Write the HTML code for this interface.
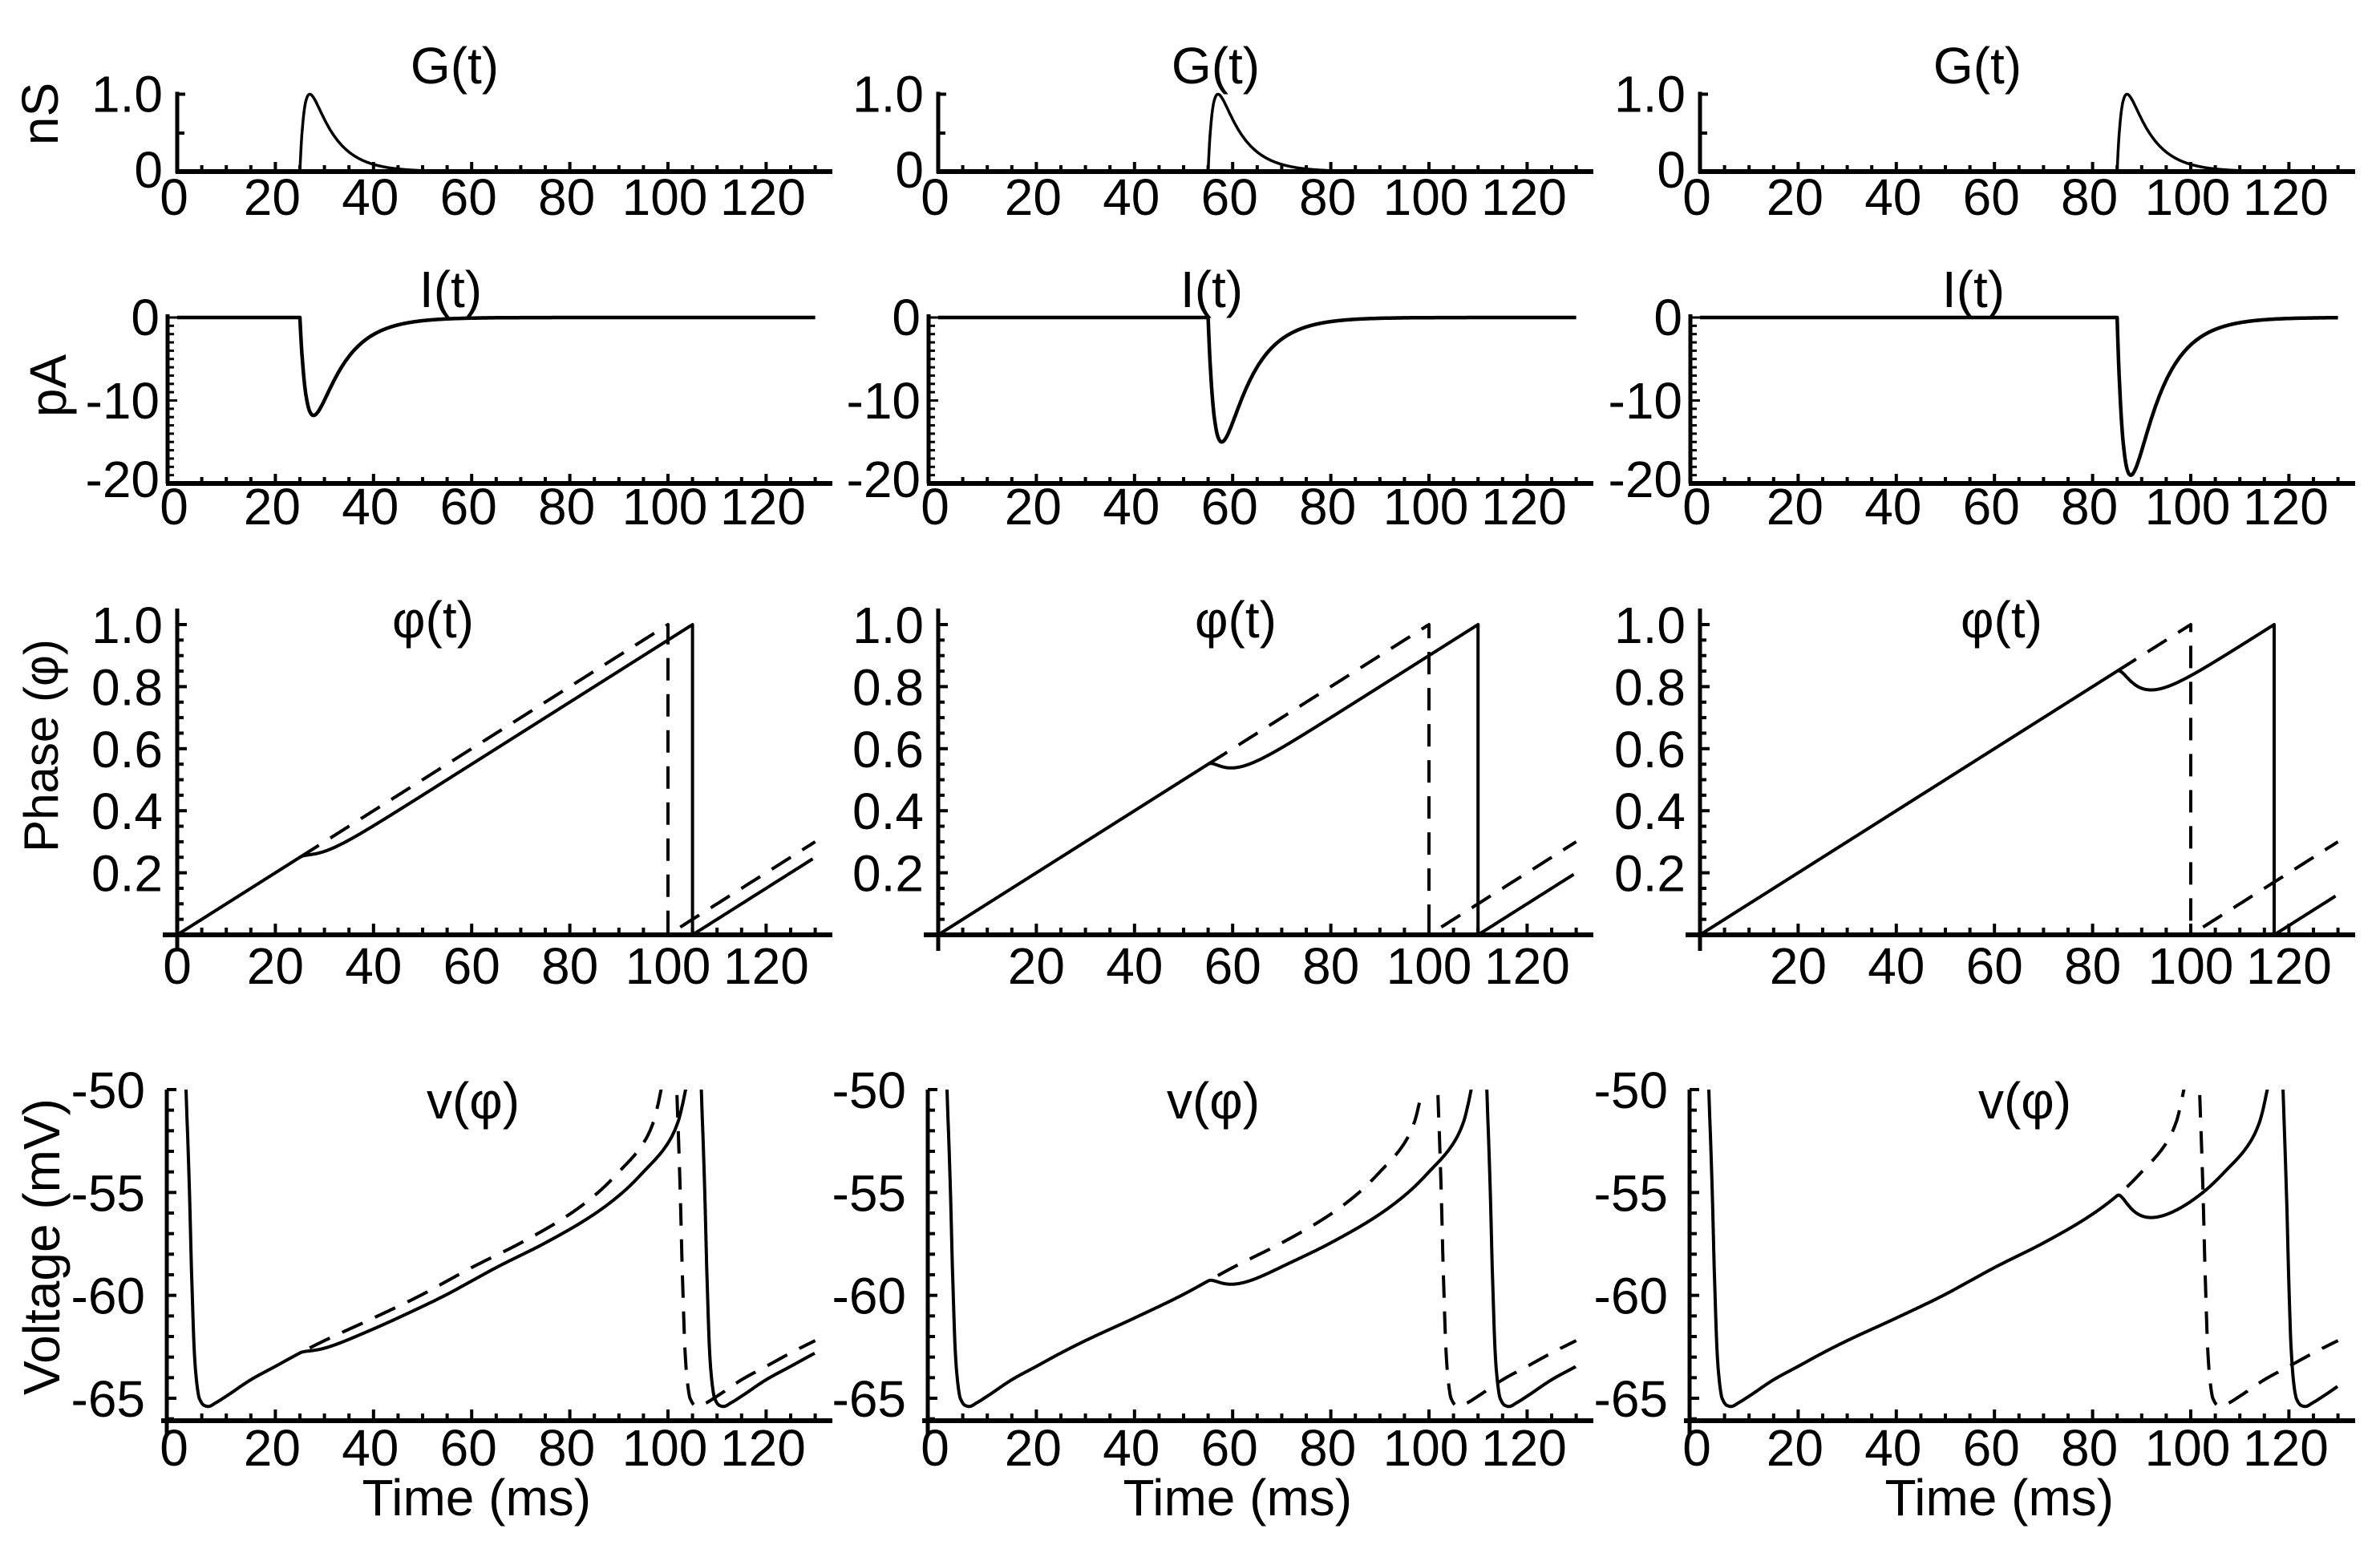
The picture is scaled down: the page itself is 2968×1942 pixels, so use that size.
<!DOCTYPE html>
<html><head><meta charset="utf-8"><style>
html,body{margin:0;padding:0;background:#fff;}
svg{display:block;}
text{font-family:"Liberation Sans",sans-serif;fill:#000;}
</style></head><body>
<svg id="s" width="2968" height="1942" viewBox="0 0 2968 1942" xmlns="http://www.w3.org/2000/svg"></svg>
<script>
const S=document.getElementById('s');
let out='';
const OFF=[0,949,1899];
const FS=64;
function T(x,y,s,anchor,size,extra){out+=`<text x="${x}" y="${y}" font-size="${size||FS}" text-anchor="${anchor||'middle'}" ${extra||''}>${s}</text>`;}
function L(x1,y1,x2,y2,w){out+=`<line x1="${x1}" y1="${y1}" x2="${x2}" y2="${y2}" stroke="#000" stroke-width="${w||5}"/>`;}
function P(pts,dash,w,clip){if(pts.length<2)return;let d='M'+pts.map(p=>p[0].toFixed(1)+','+p[1].toFixed(1)).join('L');
out+=`<path d="${d}" fill="none" stroke="#000" stroke-width="${w||4}" stroke-linejoin="round" ${dash?'stroke-dasharray="28,17"':''} ${clip?'clip-path="url(#'+clip+')"':''}/>`;}
const VT=[[0,-38],[0.01,-44],[0.018,-50],[0.025,-55],[0.03,-59.5],[0.035,-62.8],[0.04,-64.3],[0.045,-65.0],[0.055,-65.35],[0.063,-65.4],[0.08,-65.2],[0.10,-64.9],[0.15,-64.1],[0.20,-63.45],[0.25,-62.8],[0.30,-62.2],[0.40,-61.1],[0.50,-59.95],[0.55,-59.3],[0.60,-58.65],[0.70,-57.45],[0.80,-56.05],[0.86,-54.95],[0.90,-54.0],[0.95,-52.6],[0.97,-51.6],[0.986,-50],[1.0,-48]];
// monotone cubic
const n=VT.length, xs=VT.map(p=>p[0]), ys=VT.map(p=>p[1]);
const dl=[],m=[];for(let i=0;i<n-1;i++)dl.push((ys[i+1]-ys[i])/(xs[i+1]-xs[i]));
m[0]=dl[0];m[n-1]=dl[n-2];
for(let i=1;i<n-1;i++){if(dl[i-1]*dl[i]<=0)m[i]=0;else{const w1=2*(xs[i+1]-xs[i])+(xs[i]-xs[i-1]),w2=(xs[i+1]-xs[i])+2*(xs[i]-xs[i-1]);m[i]=(w1+w2)/(w1/dl[i-1]+w2/dl[i]);}}
function vphi(p){if(p<=0)return ys[0];if(p>=1)return -48+(p-1)*200;
 let i=0;while(i<n-2&&p>xs[i+1])i++;
 const h=xs[i+1]-xs[i],t=(p-xs[i])/h,t2=t*t,t3=t2*t;
 return (2*t3-3*t2+1)*ys[i]+(t3-2*t2+t)*h*m[i]+(-2*t3+3*t2)*ys[i+1]+(t3-t2)*h*m[i+1];}
function dexp(s,t1,t2){return s<0?0:(Math.exp(-s/t1)-Math.exp(-s/t2));}
function F(s){const t1=4,t2=1;return s<=0?0:1-(t1*Math.exp(-s/t1)-t2*Math.exp(-s/t2))/(t1-t2);}
const T0=[25,55,85],AI=[11.8,15,19],D=[0.05,0.10,0.17];
const PHX=[540,592,597],VX=[590,564,626];
let defs='';
for(let c=0;c<3;c++){
 const ox=221+OFF[c];const X=t=>ox+6.12*t;
 const t0=T0[c];
 {const y0=214,y1=117.5;const Y=g=>y0-(y0-y1)*g;
  L(ox,y1-3,ox,y0+2,5);L(ox-2,y0,X(133.5),y0,6);
  for(let t=5;t<=130;t+=5){const maj=t%20==0;L(X(t),y0,X(t),y0-(maj?12:8),4);}
  L(ox,y1,ox+10,y1,4);L(ox,166,ox+9,166,4);
  T(ox-18,y1+22,'1.0','end');T(ox-18,y0+20,'0','end');
  for(let t=0;t<=120;t+=20)T(X(t)-4,268,t);
  const pk=Math.log(5)*5/4;const nm=dexp(pk,5,1);
  let pts=[];for(let t=t0;t<=131;t+=0.1)pts.push([X(t),Y(dexp(t-t0,5,1)/nm)]);P(pts,false,3.5);
  T(567+OFF[c],104,'G(t)','middle');
 }
 {const y0=396,y1=603;const Y=v=>y0+(y1-y0)*(-v/20);
  L(ox-12,y0-4,ox-12,y1,5);L(ox-14,y1,X(133.5),y1,6);
  for(let v=0;v<=20;v++)L(ox-12,Y(-v),ox-12+(v%10==0?12:8),Y(-v),3);
  for(let t=5;t<=130;t+=5){const maj=t%20==0;L(X(t),y1,X(t),y1-(maj?12:8),4);}
  T(ox-22,y0+22,'0','end');T(ox-22,500+22,'-10','end');T(ox-22,598+22,'-20','end');
  for(let t=0;t<=120;t+=20)T(X(t)-4,654,t);
  const pk=Math.log(4)*6*1.5/4.5;const nm=dexp(pk,6,1.5);
  let pts=[];for(let t=0;t<=130;t+=0.1)pts.push([X(t),Y(-AI[c]*dexp(t-t0,6,1.5)/nm)]);
  P(pts,false,4.5);
  T(562+OFF[c],383,'I(t)','middle');
 }
 {const y0=1166,yu=387;const Y=p=>y0-yu*p;
  L(ox,759,ox,y0+20,5);L(ox-18,y0,X(133.5),y0,6);
  for(let i=1;i<=20;i++){const p=i*0.05;L(ox,Y(p),ox+(i%4==0?12:8),Y(p),4);}
  for(let t=5;t<=130;t+=5){const maj=t%20==0;L(X(t),y0,X(t),y0-(maj?14:9),4);}
  ['0.2','0.4','0.6','0.8','1.0'].forEach((s,i)=>T(ox-18,Y((i+1)*0.2)+23,s,'end'));
  for(let t=(c==0?0:20);t<=120;t+=20)T(X(t),1227,t);
  const Dc=D[c];const ps=t=>t/100-Dc*F(t-t0);
  let Tend=0;for(let t=t0;t<140;t+=0.01){if(ps(t)>=1){Tend=t;break;}}
  let a=[];for(let t=0;t<=Tend;t+=0.1)a.push([X(t),Y(ps(t))]);a.push([X(Tend),Y(1)]);a.push([X(Tend),Y(0)]);
  for(let t=Tend;t<=130;t+=0.5)a.push([X(t),Y((t-Tend)/100)]);P(a,false,4);
  let b=[];for(let t=t0;t<=100;t+=0.2)b.push([X(t),Y(t/100)]);b.push([X(100),Y(1)]);b.push([X(100),Y(0)]);P(b,true,4);
  let b2=[];for(let t=102.5;t<=130;t+=0.5)b2.push([X(t),Y((t-100)/100)]);P(b2,true,4);
  T(PHX[c]+OFF[c],795,'φ(t)','middle');
  const vt=1359,vb=1744,ax=1772;const k=(vb-vt)/15;const YV=v=>vt+(-50-v)*k;
  defs+=`<clipPath id="cl${c}"><rect x="${ox-20}" y="${vt}" width="900" height="${ax-vt}"/></clipPath>`;
  L(ox-13,vt,ox-13,ax+18,5);L(ox-20,ax,X(133.5),ax,6);
  for(let v=-50;v>=-66;v--){L(ox-13,YV(v),ox-13+((v%5==0)?12:9),YV(v),4);}
  for(let t=5;t<=130;t+=5){const maj=t%20==0;L(X(t),ax,X(t),ax-(maj?14:9),4);}
  ['-50','-55','-60','-65'].forEach((s,i)=>T(ox-40,YV(-50-5*i)+23,s,'end'));
  for(let t=0;t<=120;t+=20)T(X(t)-4,1828,t);
  T(X(61),1890,'Time (ms)','middle');
  T(VX[c]+OFF[c],1395,'v(φ)','middle');
  let s1=[];for(let t=0.5;t<Tend;t+=0.1)s1.push([X(t),YV(vphi(ps(t)))]);s1.push([X(Tend),YV(-47)]);P(s1,false,4,'cl'+c);
  let s2=[];for(let t=Tend;t<=130;t+=0.1)s2.push([X(t),YV(vphi((t-Tend)/100))]);P(s2,false,4,'cl'+c);
  let d1=[];for(let t=t0+2;t<=100;t+=0.1)d1.push([X(t),YV(vphi(t/100))]);P(d1,true,4,'cl'+c);
  let d2=[];for(let t=100;t<=130;t+=0.1)d2.push([X(t),YV(vphi((t-100)/100))]);P(d2,true,4,'cl'+c);
 }
}
out+=`<text transform="translate(72,142) rotate(-90)" font-size="64" text-anchor="middle">nS</text>`;
out+=`<text transform="translate(82,481) rotate(-90)" font-size="64" text-anchor="middle">pA</text>`;
out+=`<text transform="translate(72,930) rotate(-90)" font-size="60" text-anchor="middle">Phase (φ)</text>`;
out+=`<text transform="translate(74,1555) rotate(-90)" font-size="64" text-anchor="middle">Voltage (mV)</text>`;
S.innerHTML='<defs>'+defs+'</defs>'+out;
</script>
</body></html>
